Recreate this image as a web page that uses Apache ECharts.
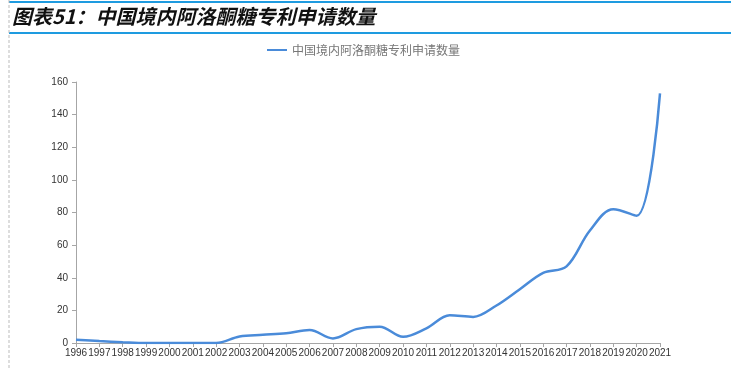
<!DOCTYPE html>
<html><head><meta charset="utf-8">
<script src="https://cdn.jsdelivr.net/npm/echarts@6/dist/echarts.min.js"></script>
<style>html,body{margin:0;padding:0;background:#fff;}#c{width:731px;height:368px;}</style>
</head><body><div id="c"></div>
<script>
const years = ['1996','1997','1998','1999','2000','2001','2002','2003','2004','2005','2006','2007','2008','2009','2010','2011','2012','2013','2014','2015','2016','2017','2018','2019','2020','2021'];
const patents = [2,1.2,0.5,0,0,0,0,4,5,6,8,2.8,8.5,10,3.8,9,17,16,23,33,43,47,69,82,78,153];
const seriesName = '中国境内阿洛酮糖专利申请数量';
const titleText = '图表51：中国境内阿洛酮糖专利申请数量';
const chart = echarts.init(document.getElementById('c'));
chart.setOption({
  animation:false,
  graphic:[
    {type:'line',shape:{x1:9,y1:2,x2:731,y2:2},style:{stroke:'#1e9be0',lineWidth:2}},
    {type:'line',shape:{x1:9,y1:33,x2:731,y2:33},style:{stroke:'#1e9be0',lineWidth:2}},
    {type:'line',shape:{x1:9,y1:0,x2:9,y2:368},style:{stroke:'#bbb',lineWidth:1,lineDash:[3,2]}},
    {type:'text',left:12,top:6,style:{text:titleText,font:'italic bold 20px "Noto Sans CJK SC"',fill:'#111'}}
  ],
  legend:{top:39,left:262,itemWidth:20,itemHeight:2,icon:'rect',itemGap:4,
    textStyle:{color:'#777',fontSize:12,fontFamily:'"Noto Sans CJK SC"'},data:[seriesName]},
  grid:{left:76,right:71,top:82,bottom:25},
  xAxis:{type:'category',data:years,boundaryGap:false,
    axisLine:{lineStyle:{color:'#a6a6a6'}},
    axisTick:{alignWithLabel:true,length:4,lineStyle:{color:'#a6a6a6'}},
    axisLabel:{interval:0,fontSize:10,color:'#333',margin:5,fontFamily:'"Liberation Sans"'}},
  yAxis:{type:'value',min:0,max:160,interval:20,
    axisLine:{show:true,lineStyle:{color:'#a6a6a6'}},
    axisTick:{show:true,length:4,lineStyle:{color:'#a6a6a6'}},
    splitLine:{show:false},
    axisLabel:{fontSize:10,color:'#333',margin:8,fontFamily:'"Liberation Sans"'}},
  series:[{name:seriesName,type:'line',data:patents,smooth:0.35,showSymbol:false,
    lineStyle:{color:'#4a8bd9',width:2.5},itemStyle:{color:'#4a8bd9'}}]
});
</script></body></html>
